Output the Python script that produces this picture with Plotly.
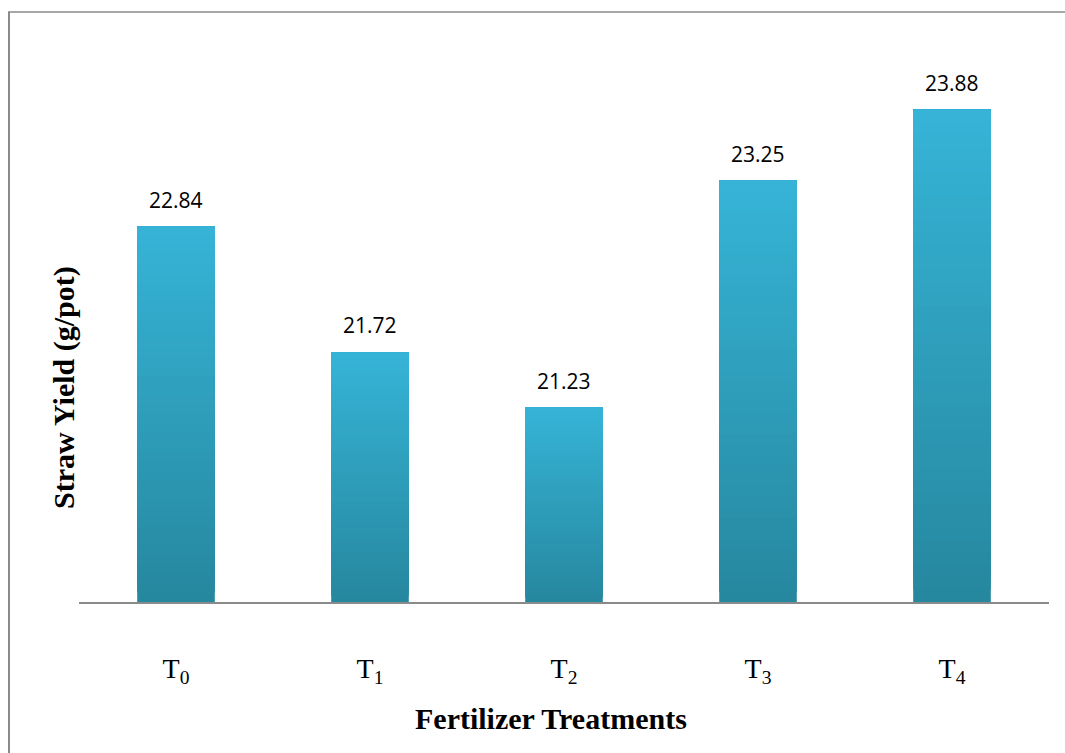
import plotly.graph_objects as go

categories = ["T<sub>0</sub>", "T<sub>1</sub>", "T<sub>2</sub>", "T<sub>3</sub>", "T<sub>4</sub>"]
values = [22.84, 21.72, 21.23, 23.25, 23.88]
value_labels = ["22.84", "21.72", "21.23", "23.25", "23.88"]
y_min, y_max = 19.5, 24.5

x_title = "Fertilizer Treatments"
y_title = "Straw Yield (g/pot)"

bottom_rgb = (0x26, 0x87, 0x9E)
top_rgb = (0x36, 0xB4, 0xD7)
N = 40

fig = go.Figure()
for i in range(N):
    t = (i + 0.5) / N
    c = tuple(int(round(b + (tp - b) * t)) for b, tp in zip(bottom_rgb, top_rgb))
    bases = [y_min + (v - y_min) * i / N for v in values]
    heights = [v - b for v, b in zip(values, bases)]
    fig.add_trace(go.Bar(
        x=categories, y=heights, base=bases,
        marker=dict(color="rgb(%d,%d,%d)" % c, line=dict(width=0)),
        showlegend=False, hoverinfo="skip",
    ))

for cat, v, lab in zip(categories, values, value_labels):
    fig.add_annotation(x=cat, y=v, text=lab, showarrow=False, yanchor="bottom",
                       yshift=11, font=dict(family="Open Sans, Noto Sans, sans-serif", size=21, color="black"))

serif = "Liberation Serif, Times New Roman, serif"
fig.add_annotation(xref="paper", yref="paper", x=(551 - 79) / 970, y=(602 - 718) / 562,
                   text="<b>%s</b>" % x_title, showarrow=False, xanchor="center", yanchor="middle",
                   font=dict(family=serif, size=30, color="black"))
fig.add_annotation(xref="paper", yref="paper", x=(64 - 79) / 970, y=(602 - 388) / 562,
                   text="<b>%s</b>" % y_title, showarrow=False, textangle=-90, xanchor="center", yanchor="middle",
                   font=dict(family=serif, size=30, color="black"))

frame_color = "#8a8a8a"
fig.add_shape(type="line", xref="paper", yref="paper", x0=(9 - 79) / 970, x1=(9 - 79) / 970,
              y0=(602 - 12) / 562, y1=(602 - 760) / 562, line=dict(color=frame_color, width=2))
fig.add_shape(type="line", xref="paper", yref="paper", x0=(8 - 79) / 970, x1=(1070 - 79) / 970,
              y0=(602 - 12) / 562, y1=(602 - 12) / 562, line=dict(color=frame_color, width=1.5))

fig.update_layout(
    width=1065, height=753,
    margin=dict(l=79, r=16, t=40, b=151),
    paper_bgcolor="white", plot_bgcolor="white",
    barmode="overlay", bargap=0.6,
    xaxis=dict(showline=True, linecolor=frame_color, linewidth=1.5, ticks="", showgrid=False,
               tickfont=dict(family=serif, size=28, color="black"),
               ticklabelstandoff=41),
    yaxis=dict(range=[y_min, y_max], showticklabels=False, showgrid=False, zeroline=False,
               showline=False, ticks=""),
)

fig.write_html("out.html", config={"displayModeBar": False},
               post_script="document.body.style.margin='0';document.body.style.padding='0';")
